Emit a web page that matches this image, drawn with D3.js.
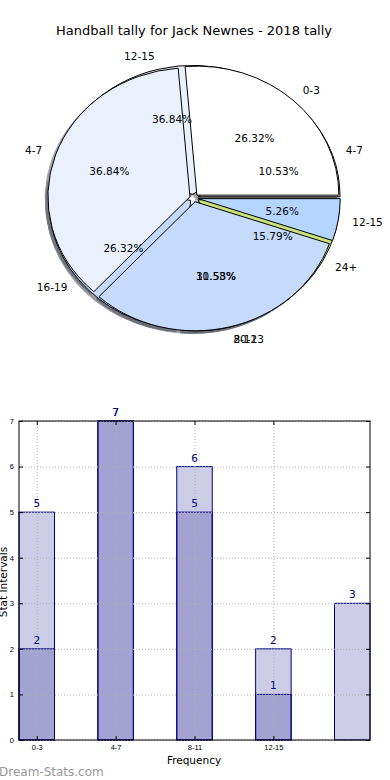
<html>
    <head>
        <style>
        body {
            margin: 0;
            background: #ffffff;
        }

        svg {
            font-family: "DejaVu Sans", sans-serif;
            display: block;
        }

        .grid .tick line {
            stroke: #b0b0b0;
            stroke-dasharray: 1,2;
        }

        .grid .domain, .axis .domain {
            display: none;
        }

        .axis .tick line {
            stroke: #000;
        }

        .axis text {
            font-size: 7.5px;
            fill: #000;
        }
        </style>
    </head>
    <body>
        <svg width="390" height="780"></svg>
        <script src="https://d3js.org/d3.v7.min.js"></script>
        <script>

            // pie data (two series drawn over each other)
            let pieCatsA = ["0-3", "4-7", "8-11", "12-15"]
            let pieValsA = [5, 7, 6, 1]
            let pieCatsB = ["4-7", "12-15", "16-19", "20-23", "24+"]
            let pieValsB = [2, 7, 5, 2, 3]
            let pieColors = ["#ffffff", "#eaf1fd", "#c6dafc", "#b4d5ff", "#c9e27c"]

            // bar data
            let barCats = ["0-3", "4-7", "8-11", "12-15", ""]
            let barValsA = [5, 7, 6, 2, 3]
            let barValsB = [2, 7, 5, 1]
            let yTicks = [0, 1, 2, 3, 4, 5, 6, 7]

            let svg = d3.select("svg")

            svg.append("text")
                .attr("x", 194)
                .attr("y", 35)
                .attr("text-anchor", "middle")
                .style("font-size", "13px")
                .text("Handball tally for Jack Newnes - 2018 tally")

            // ---- pie ----
            let cx = 194, cy = 198, rx = 142, ry = 129
            let explode = 0.03

            let pie = d3.pie()
                .sort(null)
                .startAngle(Math.PI / 2)
                .endAngle(Math.PI / 2 - 2 * Math.PI)

            let arc = d3.arc().innerRadius(0).outerRadius(1)

            let mid = d => (d.startAngle + d.endAngle) / 2

            let arcsA = pie(pieValsA).map((d, i) => ({...d, cat: pieCatsA[i], color: pieColors[i]}))
            let arcsB = pie(pieValsB).map((d, i) => ({...d, cat: pieCatsB[i], color: pieColors[i]}))
            let allArcs = arcsB.concat(arcsA)

            let pieG = svg.append("g")
                .attr("transform", `translate(${cx},${cy}) scale(${rx},${ry})`)

            let shade = c => {
                let k = d3.rgb(c)
                return d3.rgb(k.r * 0.3, k.g * 0.3, k.b * 0.3).toString()
            }

            // shadows below everything
            pieG.append("g").selectAll("path")
                .data(allArcs)
                .join("path")
                .attr("d", arc)
                .attr("transform", d => `translate(${explode * Math.sin(mid(d)) - 0.02},${-explode * Math.cos(mid(d)) + 0.02})`)
                .attr("fill", d => shade(d.color))
                .attr("stroke", d => shade(d.color))
                .attr("opacity", 0.5)
                .attr("vector-effect", "non-scaling-stroke")

            let drawWedges = (arcs) => {
                pieG.append("g").selectAll("path")
                    .data(arcs)
                    .join("path")
                    .attr("d", arc)
                    .attr("transform", d => `translate(${explode * Math.sin(mid(d))},${-explode * Math.cos(mid(d))})`)
                    .attr("fill", d => d.color)
                    .attr("stroke", "#000")
                    .attr("stroke-width", 1)
                    .attr("stroke-linejoin", "round")
                    .attr("vector-effect", "non-scaling-stroke")
            }
            drawWedges(arcsB)
            drawWedges(arcsA)

            let pieText = svg.append("g").style("font-size", "10.5px")
            let drawLabels = (arcs) => {
                arcs.forEach(d => {
                    let s = Math.sin(mid(d)), c = Math.cos(mid(d))
                    let ox = cx + explode * s * rx, oy = cy - explode * c * ry
                    pieText.append("text")
                        .attr("x", ox + 1.1 * s * rx)
                        .attr("y", oy - 1.1 * c * ry)
                        .attr("dy", "0.35em")
                        .attr("text-anchor", s > 0 ? "start" : "end")
                        .text(d.cat)
                    pieText.append("text")
                        .attr("x", ox + 0.6 * s * rx)
                        .attr("y", oy - 0.6 * c * ry)
                        .attr("dy", "0.35em")
                        .attr("text-anchor", "middle")
                        .text(d3.format(".2f")(d.value / d3.sum(arcs, e => e.value) * 100) + "%")
                })
            }
            drawLabels(arcsB)
            drawLabels(arcsA)

            // ---- bars ----
            let frame = {left: 19, right: 370, top: 421, bottom: 740}
            let barW = 0.45

            let x = d3.scaleLinear()
                .domain([-barW / 2, barCats.length - 1 + barW / 2])
                .range([frame.left, frame.right])

            let y = d3.scaleLinear()
                .domain([0, 7])
                .range([frame.bottom, frame.top])

            let drawBars = (vals) => {
                svg.append("g").selectAll("rect")
                    .data(vals)
                    .join("rect")
                    .attr("x", (d, i) => x(i - barW / 2))
                    .attr("width", x(barW) - x(0))
                    .attr("y", d => y(d))
                    .attr("height", d => y(0) - y(d))
                    .attr("fill", "#000080")
                    .attr("fill-opacity", 0.2)
                    .attr("stroke", "#000080")
                    .attr("stroke-width", 1)
            }
            drawBars(barValsA)
            drawBars(barValsB)

            // dotted grid
            svg.append("g")
                .attr("class", "grid")
                .attr("transform", `translate(${frame.left},0)`)
                .call(d3.axisLeft(y).tickValues(yTicks).tickSize(frame.left - frame.right).tickFormat(""))
            svg.append("g")
                .attr("class", "grid")
                .attr("transform", `translate(0,${frame.bottom})`)
                .call(d3.axisBottom(x).tickValues([0, 1, 2, 3]).tickSize(frame.top - frame.bottom).tickFormat(""))

            svg.append("rect")
                .attr("x", frame.left)
                .attr("y", frame.top)
                .attr("width", frame.right - frame.left)
                .attr("height", frame.bottom - frame.top)
                .attr("fill", "none")
                .attr("stroke", "#000")

            svg.append("g")
                .attr("class", "axis")
                .attr("transform", `translate(${frame.left},0)`)
                .call(d3.axisLeft(y).tickValues(yTicks).tickSize(-4).tickPadding(5).tickFormat(d3.format("d")))
            svg.append("g")
                .attr("class", "axis")
                .attr("transform", `translate(${frame.right},0)`)
                .call(d3.axisRight(y).tickValues(yTicks).tickSize(-4).tickFormat(""))
            svg.append("g")
                .attr("class", "axis")
                .attr("transform", `translate(0,${frame.bottom})`)
                .call(d3.axisBottom(x).tickValues([0, 1, 2, 3]).tickSize(-4).tickPadding(5).tickFormat(i => barCats[i]))
            svg.append("g")
                .attr("class", "axis")
                .attr("transform", `translate(0,${frame.top})`)
                .call(d3.axisTop(x).tickValues([0, 1, 2, 3]).tickSize(-4).tickFormat(""))

            // value labels
            let drawValues = (vals) => {
                svg.append("g").selectAll("text")
                    .data(vals)
                    .join("text")
                    .attr("x", (d, i) => x(i))
                    .attr("y", d => y(d) - 5)
                    .attr("text-anchor", "middle")
                    .style("font-size", "10.5px")
                    .style("fill", "#000080")
                    .text(d => d)
            }
            drawValues(barValsA)
            drawValues(barValsB)

            svg.append("text")
                .attr("x", 194)
                .attr("y", 764)
                .attr("text-anchor", "middle")
                .style("font-size", "10.5px")
                .text("Frequency")

            svg.append("text")
                .attr("transform", "translate(7,582) rotate(-90)")
                .attr("text-anchor", "middle")
                .style("font-size", "10.5px")
                .text("Stat Intervals")

            svg.append("text")
                .attr("x", -1)
                .attr("y", 776)
                .style("font-size", "12px")
                .style("fill", "#999999")
                .text("Dream-Stats.com")

        </script>
    </body>
</html>
